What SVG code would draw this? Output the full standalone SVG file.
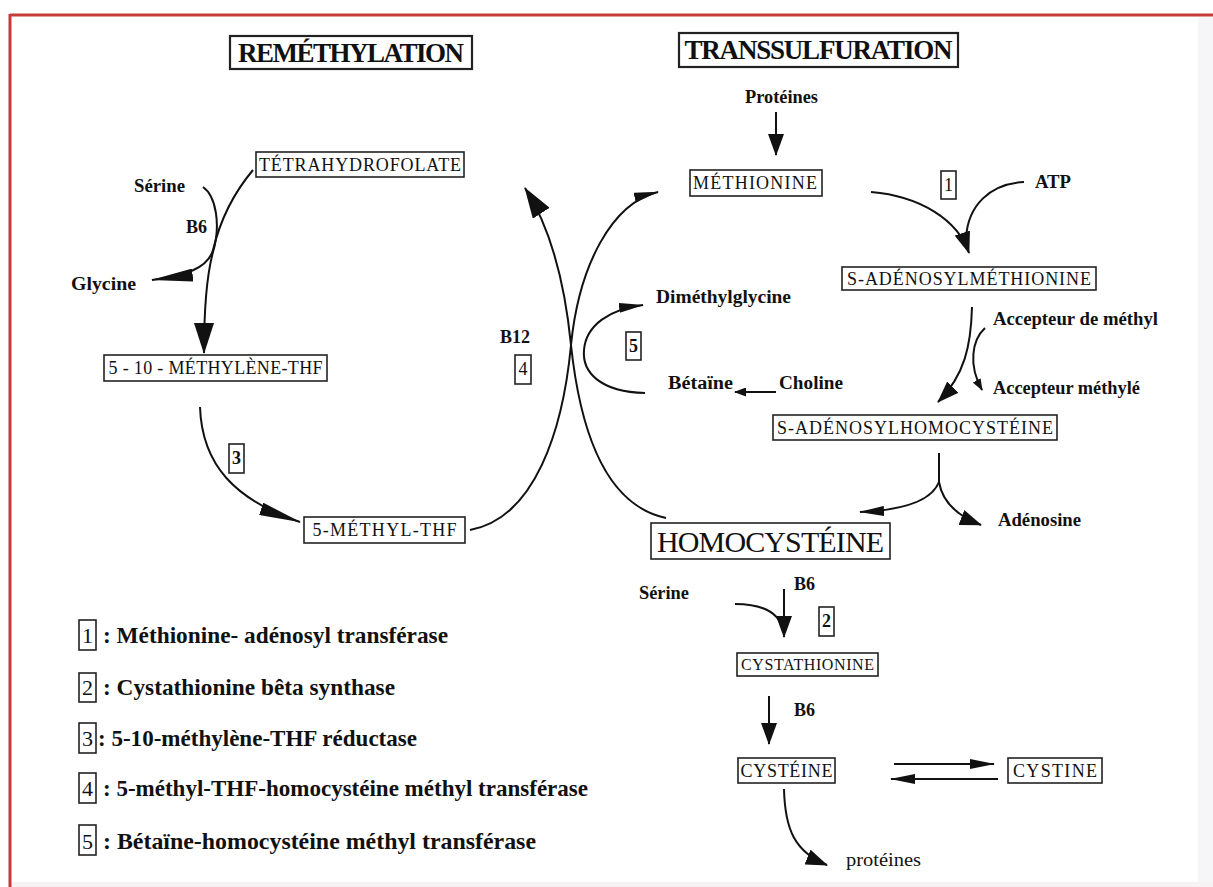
<svg xmlns="http://www.w3.org/2000/svg" width="1213" height="887" viewBox="0 0 1213 887">
<style>
.bx{fill:none;stroke:#222;stroke-width:1.6}
.tb{fill:none;stroke:#222;stroke-width:2.2}
.nd{font-family:"Liberation Serif",serif;font-size:18px;text-anchor:middle;fill:#111}
.tt{font-family:"Liberation Serif",serif;font-size:27px;font-weight:bold;text-anchor:middle;fill:#111}
.lb{font-family:"Liberation Serif",serif;font-size:18px;font-weight:bold;fill:#111}
.nm{font-family:"Liberation Serif",serif;font-size:18px;text-anchor:middle;fill:#111}
.lg{font-family:"Liberation Serif",serif;font-size:24px;font-weight:bold;fill:#111}
.ln{font-family:"Liberation Serif",serif;font-size:22px;text-anchor:middle;fill:#111}
.e{fill:none;stroke:#111;stroke-width:2}
</style>
<defs>
<marker id="mLg" viewBox="0 0 31 20" refX="30" refY="10" markerWidth="31" markerHeight="20" orient="auto" markerUnits="userSpaceOnUse"><path d="M0,0 L31,10 L0,20 z" fill="#111"/></marker>
<marker id="mMd" viewBox="0 0 22 16" refX="21" refY="8" markerWidth="22" markerHeight="16" orient="auto" markerUnits="userSpaceOnUse"><path d="M0,0 L22,8 L0,16 z" fill="#111"/></marker>
<marker id="mSlim" viewBox="0 0 42 13" refX="41" refY="6.5" markerWidth="42" markerHeight="13" orient="auto" markerUnits="userSpaceOnUse"><path d="M0,0 L42,6.5 L0,13 z" fill="#111"/></marker>
<marker id="mThin" viewBox="0 0 25 10" refX="24" refY="5" markerWidth="25" markerHeight="10" orient="auto" markerUnits="userSpaceOnUse"><path d="M0,0 L25,5 L0,10 z" fill="#111"/></marker>
<marker id="mSm" viewBox="0 0 12 9" refX="11" refY="4.5" markerWidth="12" markerHeight="9" orient="auto" markerUnits="userSpaceOnUse"><path d="M0,0 L12,4.5 L0,9 z" fill="#111"/></marker>
</defs>
<rect x="0" y="0" width="1213" height="887" fill="#ffffff"/>
<rect x="1198" y="17" width="15" height="870" fill="#f6f6f8"/>
<rect x="11" y="882" width="1202" height="5" fill="#f7f3f5"/>
<g id="frame">
<line x1="10" y1="15" x2="1213" y2="15" stroke="#c43a3a" stroke-width="3"/>
<line x1="10" y1="14" x2="10" y2="887" stroke="#c43a3a" stroke-width="3"/>
</g>

<g id="connectors">
<path class="e" d="M203,187 C216,196 221,225 213,252 C206,278 204,310 204,353" marker-end="url(#mLg)"/>
<path class="e" d="M253,170 C232,195 219,225 213,250 C208,268 185,276 152,280" marker-end="url(#mSlim)"/>
<path class="e" d="M200,407 C202,465 235,500 300,522" marker-end="url(#mSlim)"/>
<path class="e" d="M470,530 C535,518 563,430 571,345 C579,265 612,203 658,192" marker-end="url(#mThin)"/>
<path class="e" d="M666,518 C605,505 580,430 571,345 C565,285 552,230 525,188" marker-end="url(#mLg)"/>
<path class="e" d="M645,393 C600,392 582,372 584,350 C586,325 610,309 643,305" marker-end="url(#mThin)"/>
<path class="e" d="M776,392 L735,392" marker-end="url(#mSm)"/>
<path class="e" d="M776,112 L776,155" marker-end="url(#mMd)"/>
<path class="e" d="M871,192 C920,196 958,220 969,253" marker-end="url(#mMd)"/>
<path class="e" d="M1024,182 C990,184 968,205 966,238"/>
<path class="e" d="M972,307 C971,345 965,375 938,402" marker-end="url(#mMd)"/>
<path class="e" d="M985,328 C972,340 968,365 982,390" marker-end="url(#mSm)"/>
<path class="e" d="M939,453 L939,482"/>
<path class="e" d="M939,482 C932,500 905,510 860,512" marker-end="url(#mThin)"/>
<path class="e" d="M939,482 C942,500 955,515 981,525" marker-end="url(#mMd)"/>
<path class="e" d="M735,604 C762,604 780,612 784,632"/>
<path class="e" d="M784,589 L784,637" marker-end="url(#mMd)"/>
<path class="e" d="M769,696 L769,744" marker-end="url(#mMd)"/>
<path class="e" d="M894,764 L994,764" marker-end="url(#mThin)"/>
<path class="e" d="M998,779 L891,779" marker-end="url(#mThin)"/>
<path class="e" d="M784,789 C785,830 795,852 827,865" marker-end="url(#mMd)"/>
</g>

<g id="title-remethylation"><rect class="tb" x="230" y="36" width="242" height="33"/><text class="tt" x="351" y="62" textLength="226">REMÉTHYLATION</text></g>
<g id="title-transsulfuration"><rect class="tb" x="679" y="33" width="279" height="34"/><text class="tt" x="818.5" y="59" textLength="268">TRANSSULFURATION</text></g>

<g id="n-thf"><rect class="bx" x="256" y="152" width="208" height="25"/><text class="nd" x="360" y="171" textLength="202">TÉTRAHYDROFOLATE</text></g>
<g id="n-methylene-thf"><rect class="bx" x="104" y="355" width="223" height="26"/><text class="nd" x="215.5" y="374" textLength="214">5 - 10 - MÉTHYLÈNE-THF</text></g>
<g id="n-methyl-thf"><rect class="bx" x="304" y="517" width="161" height="26"/><text class="nd" x="384.5" y="536" textLength="144">5-MÉTHYL-THF</text></g>
<g id="n-methionine"><rect class="bx" x="690" y="170" width="132" height="26"/><text class="nd" x="755" y="189" textLength="124">MÉTHIONINE</text></g>
<g id="n-sam"><rect class="bx" x="842" y="267" width="254" height="23"/><text class="nd" x="969" y="285" textLength="244">S-ADÉNOSYLMÉTHIONINE</text></g>
<g id="n-sah"><rect class="bx" x="773" y="415" width="284" height="25"/><text class="nd" x="915" y="434" textLength="276">S-ADÉNOSYLHOMOCYSTÉINE</text></g>
<g id="n-homocysteine"><rect class="bx" x="651" y="523" width="239" height="36"/><text class="nd" x="770.5" y="552" style="font-size:30px" textLength="227">HOMOCYSTÉINE</text></g>
<g id="n-cystathionine"><rect class="bx" x="737" y="653" width="141" height="23"/><text class="nd" x="807.5" y="670" style="font-size:16px" textLength="133">CYSTATHIONINE</text></g>
<g id="n-cysteine"><rect class="bx" x="738" y="758" width="97" height="25"/><text class="nd" x="786.5" y="777" textLength="92">CYSTÉINE</text></g>
<g id="n-cystine"><rect class="bx" x="1008" y="758" width="94" height="25"/><text class="nd" x="1055" y="777" textLength="84">CYSTINE</text></g>

<g id="enzymes">
<g id="e1"><rect class="bx" x="941" y="171" width="15" height="28"/><text class="nm" x="948.5" y="191">1</text></g>
<g id="e2"><rect class="bx" x="819" y="607" width="15" height="29"/><text class="nm" x="826.5" y="627" style="font-weight:bold">2</text></g>
<g id="e3"><rect class="bx" x="229" y="444" width="15" height="29"/><text class="nm" x="236.5" y="464" style="font-weight:bold">3</text></g>
<g id="e4"><rect class="bx" x="515" y="355" width="16" height="29"/><text class="nm" x="523" y="375">4</text></g>
<g id="e5"><rect class="bx" x="626" y="332" width="15" height="28"/><text class="nm" x="633.5" y="352" style="font-weight:bold">5</text></g>
</g>

<g id="labels">
<text class="lb" x="134" y="192" textLength="51" lengthAdjust="spacingAndGlyphs">Sérine</text>
<text class="lb" x="186" y="233">B6</text>
<text class="lb" x="71" y="290" textLength="65" lengthAdjust="spacingAndGlyphs">Glycine</text>
<text class="lb" x="500" y="343">B12</text>
<text class="lb" x="745" y="103" textLength="73" lengthAdjust="spacingAndGlyphs">Protéines</text>
<text class="lb" x="1035" y="188" textLength="36" lengthAdjust="spacingAndGlyphs">ATP</text>
<text class="lb" x="656" y="303" textLength="135" lengthAdjust="spacingAndGlyphs">Diméthylglycine</text>
<text class="lb" x="668" y="389" textLength="65" lengthAdjust="spacingAndGlyphs">Bétaïne</text>
<text class="lb" x="779" y="389" textLength="64" lengthAdjust="spacingAndGlyphs">Choline</text>
<text class="lb" x="993" y="325" textLength="165" lengthAdjust="spacingAndGlyphs">Accepteur de méthyl</text>
<text class="lb" x="993" y="394" textLength="147" lengthAdjust="spacingAndGlyphs">Accepteur méthylé</text>
<text class="lb" x="998" y="526" textLength="83" lengthAdjust="spacingAndGlyphs">Adénosine</text>
<text class="lb" x="639" y="599" textLength="50" lengthAdjust="spacingAndGlyphs">Sérine</text>
<text class="lb" x="794" y="590">B6</text>
<text class="lb" x="794" y="716">B6</text>
<text class="lb" x="846" y="866" style="font-weight:normal" textLength="75" lengthAdjust="spacingAndGlyphs">protéines</text>
</g>

<g id="legend">
<rect class="bx" x="79" y="620" width="17" height="30"/><text class="ln" x="87.5" y="643">1</text>
<text class="lg" x="103" y="643" textLength="345" lengthAdjust="spacingAndGlyphs">: Méthionine- adénosyl transférase</text>
<rect class="bx" x="79" y="673" width="17" height="29"/><text class="ln" x="87.5" y="695">2</text>
<text class="lg" x="103" y="695" textLength="292" lengthAdjust="spacingAndGlyphs">: Cystathionine bêta synthase</text>
<rect class="bx" x="79" y="723" width="17" height="30"/><text class="ln" x="87.5" y="746">3</text>
<text class="lg" x="98" y="746" textLength="319" lengthAdjust="spacingAndGlyphs">: 5-10-méthylène-THF réductase</text>
<rect class="bx" x="79" y="773" width="17" height="30"/><text class="ln" x="87.5" y="796">4</text>
<text class="lg" x="103" y="796" textLength="485" lengthAdjust="spacingAndGlyphs">: 5-méthyl-THF-homocystéine méthyl transférase</text>
<rect class="bx" x="79" y="825" width="17" height="30"/><text class="ln" x="87.5" y="849">5</text>
<text class="lg" x="103" y="849" textLength="433" lengthAdjust="spacingAndGlyphs">: Bétaïne-homocystéine méthyl transférase</text>
</g>
</svg>
